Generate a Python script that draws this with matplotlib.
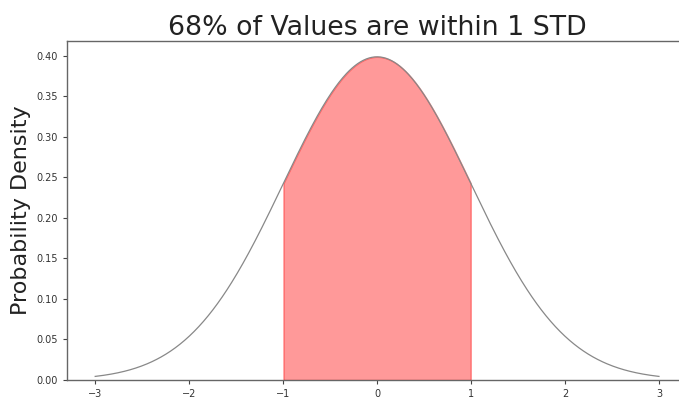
import numpy as np
import matplotlib
matplotlib.use('Agg')
import matplotlib.pyplot as plt

# the chart is a standard normal curve, shaded within one std
mean = 0.0
std = 1.0
x_min, x_max = -3.0, 3.0
shade_lo, shade_hi = -1.0, 1.0
x_ticks = [-3, -2, -1, 0, 1, 2, 3]
y_ticks = [0.00, 0.05, 0.10, 0.15, 0.20, 0.25, 0.30, 0.35, 0.40]


def normal_pdf(x, mu, sigma):
    return np.exp(-0.5 * ((x - mu) / sigma) ** 2) / (sigma * np.sqrt(2 * np.pi))


def main():
    x = np.linspace(x_min, x_max, 600)
    y = normal_pdf(x, mean, std)

    fig = plt.figure(figsize=(6.79, 4.01), dpi=100)
    ax = fig.add_axes([0.0987, 0.0524, 1.012 - 0.0987, 0.8978 - 0.0524])

    ax.plot(x, y, color='#888888', linewidth=0.9)
    xs = x[(x >= shade_lo) & (x <= shade_hi)]
    ax.fill_between(xs, normal_pdf(xs, mean, std), color='red', alpha=0.4)

    ax.set_xlim(-3.3, 3.3)
    ax.set_ylim(0, 0.4185)
    ax.set_xticks(x_ticks)
    ax.set_yticks(y_ticks)
    ax.set_xticklabels([str(t).replace('-', '\u2212') for t in x_ticks])
    ax.set_yticklabels(['%.2f' % t for t in y_ticks])
    ax.tick_params(labelsize=7, length=3, width=0.8, colors='#444444', labelcolor='#333333')
    for side in ['top', 'right', 'bottom', 'left']:
        ax.spines[side].set_color('#666666')
        ax.spines[side].set_linewidth(1.0)

    ax.set_title('68% of Values are within 1 STD', fontsize=19.3, color='#222222', pad=4)
    ax.set_ylabel('Probability Density', fontsize=16, color='#222222', labelpad=4)

    fig.savefig('out.png', dpi=100)
    plt.close(fig)


if __name__ == '__main__':
    main()
